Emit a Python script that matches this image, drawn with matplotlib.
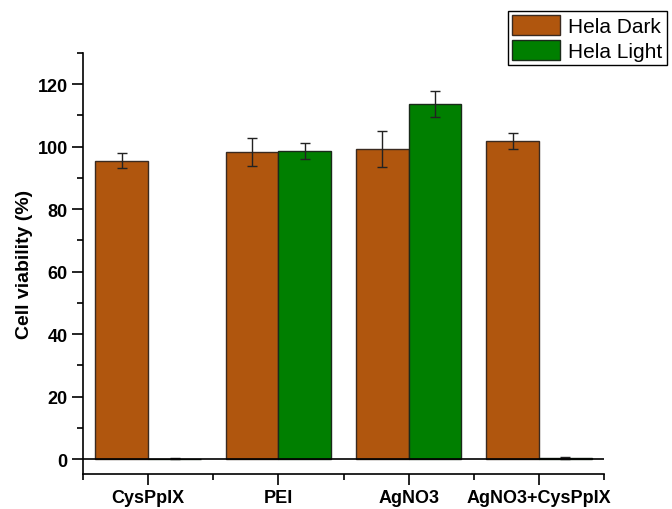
import matplotlib.pyplot as plt
import numpy as np
from matplotlib.ticker import MultipleLocator

plt.rcParams['font.family'] = ['Liberation Sans', 'DejaVu Sans']

# cell viability data
groups = ['CysPpIX', 'PEI', 'AgNO3', 'AgNO3+CysPpIX']
dark_mean = [95.5, 98.3, 99.2, 101.7]
dark_err = [2.3, 4.4, 5.9, 2.5]
light_mean = [0.1, 98.6, 113.6, 0.3]
light_err = [0.2, 2.6, 4.1, 0.3]

x = np.arange(len(groups))
w = 0.405

fig = plt.figure(figsize=(6.72, 5.10), dpi=100)
ax = fig.add_axes([0.1235, 0.0686, 0.899 - 0.1235, 0.8946 - 0.0686])

ekw = dict(ecolor='#222222', elinewidth=1, capthick=1, capsize=3.5)
ax.bar(x - w/2, dark_mean, w, yerr=dark_err, color='#B0560E', edgecolor='#3a2a20',
       linewidth=1, label='Hela Dark', error_kw=ekw, zorder=2)
ax.bar(x + w/2, light_mean, w, yerr=light_err, color='#007F00', edgecolor='#1a2a1a',
       linewidth=1, label='Hela Light', error_kw=ekw, zorder=2)

ax.axhline(0, color='black', lw=1.2, zorder=3)

ax.set_xlim(-0.5, 3.5)
ax.set_ylim(-4.8, 130)
ax.set_xticks(x)
ax.set_xticklabels(groups, fontweight='bold', fontsize=13)
ax.xaxis.set_minor_locator(MultipleLocator(1, offset=0.5))
ax.yaxis.set_minor_locator(MultipleLocator(10))
ax.set_yticks(np.arange(0, 121, 20))
ax.set_yticklabels([str(v) for v in range(0, 121, 20)], fontweight='bold', fontsize=13)
ax.tick_params(which='major', direction='out', length=8, width=1.2, pad=3)
ax.tick_params(which='minor', direction='out', length=4, width=1.2)

ax.spines['top'].set_visible(False)
ax.spines['right'].set_visible(False)
ax.spines['left'].set_linewidth(1.2)
ax.spines['bottom'].set_linewidth(1.2)

ax.set_ylabel('Cell viability (%)', fontweight='bold', fontsize=14, labelpad=3)

leg = fig.legend(loc='upper right', bbox_to_anchor=(0.992, 0.976), fontsize=15,
                 frameon=True, fancybox=False, edgecolor='black', framealpha=1,
                 handlelength=2.3, handleheight=1.1, handletextpad=0.4,
                 labelspacing=0.15, borderpad=0.2, borderaxespad=0)
leg.get_frame().set_linewidth(1)

fig.savefig('out.png', dpi=100)
